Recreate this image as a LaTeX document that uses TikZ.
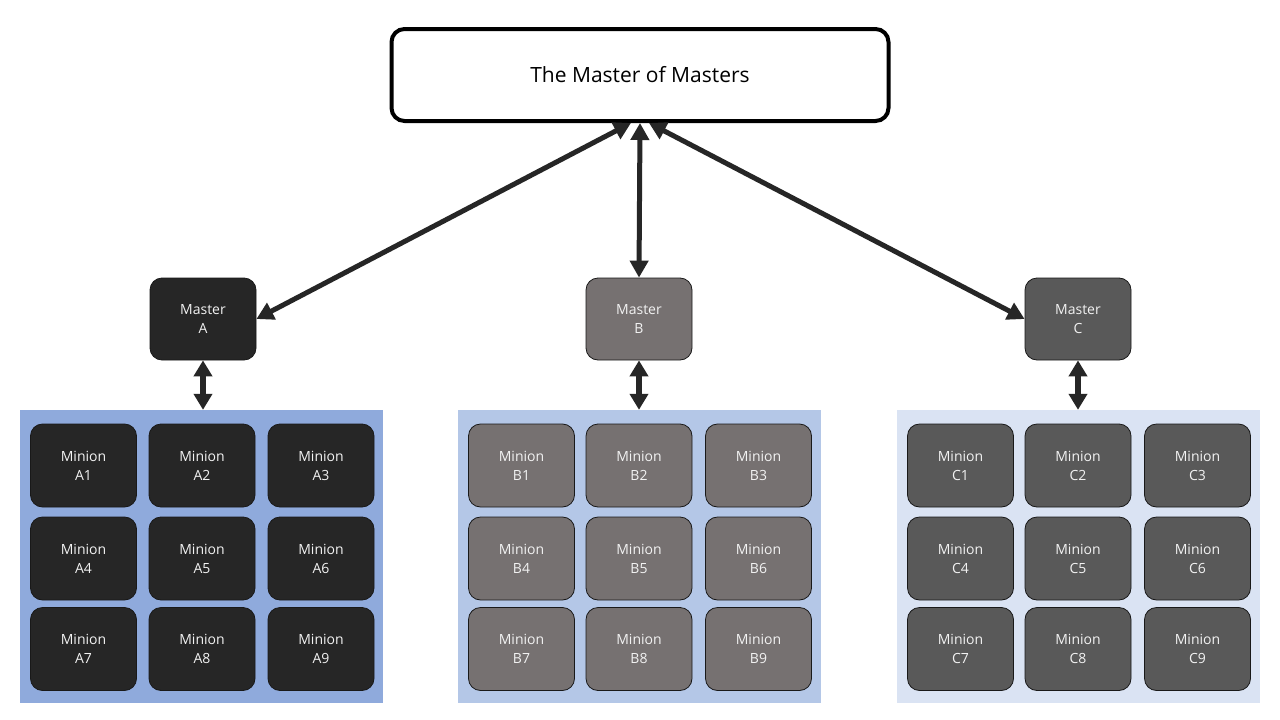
\documentclass[tikz,border=0pt]{standalone}
\usepackage{fontspec}
\setmainfont{Open Sans}
\usetikzlibrary{arrows.meta,calc}
\definecolor{cA}{HTML}{262626}
\definecolor{cB}{HTML}{767171}
\definecolor{cC}{HTML}{595959}
\definecolor{pA}{HTML}{8FAADC}
\definecolor{pB}{HTML}{B4C7E7}
\definecolor{pC}{HTML}{DAE3F3}
\definecolor{txt}{HTML}{F2F2F2}
\definecolor{edge}{HTML}{262626}
\tikzset{
  boxstyle/.style={rounded corners=12pt, draw=black!90, line width=0.8pt, minimum width=106pt, minimum height=83pt, inner sep=0pt, text=txt, align=center, font=\fontsize{14}{19}\selectfont},
  panel/.style={draw=none, inner sep=0pt, minimum width=363pt, minimum height=293pt},
  bigarrow/.style={edge, line width=5pt, {Triangle[width=18pt,length=17pt]}-{Triangle[width=18pt,length=17pt]}, shorten <=0pt, shorten >=0pt},
  vertarrow/.style={edge, line width=6pt, {Triangle[width=18pt,length=16pt]}-{Triangle[width=18pt,length=16pt]}}
}
\begin{document}
\begin{tikzpicture}[x=1pt,y=-1pt]
\useasboundingbox[fill=white] (0,0) rectangle (1280,720);
% top
\node[draw=black, line width=4pt, rounded corners=13pt, minimum width=497pt, minimum height=92pt, inner sep=0pt, font=\fontsize{21}{25}\selectfont] (top) at (640,75) {The Master of Masters};
% panels
\node[panel, fill=pA] (PA) at (201.5,556.5) {};
\node[panel, fill=pB] (PB) at (639.5,556.5) {};
\node[panel, fill=pC] (PC) at (1078.5,556.5) {};
% masters
\node[boxstyle, fill=cA, minimum height=82pt] (MA) at (203,319) {Master\\A};
\node[boxstyle, fill=cB, minimum height=82pt] (MB) at (639,319) {Master\\B};
\node[boxstyle, fill=cC, minimum height=82pt] (MC) at (1078,319) {Master\\C};
% minions
\foreach \g/\col/\xa/\xb/\xc in {A/cA/83.5/202/321, B/cB/521.5/639/758.5, C/cC/960.5/1078/1197.5}{
  \foreach \r/\y in {0/465.5, 1/558.5, 2/649}{
    \pgfmathtruncatemacro{\na}{3*\r+1}
    \pgfmathtruncatemacro{\nb}{3*\r+2}
    \pgfmathtruncatemacro{\nc}{3*\r+3}
    \node[boxstyle, fill=\col] (m\g\na) at (\xa,\y) {Minion\\\g\na};
    \node[boxstyle, fill=\col] (m\g\nb) at (\xb,\y) {Minion\\\g\nb};
    \node[boxstyle, fill=\col] (m\g\nc) at (\xc,\y) {Minion\\\g\nc};
  }
}
% connectors
\coordinate (tA) at ([xshift=-9pt]top.south);
\coordinate (tB) at (top.south);
\coordinate (tC) at ([xshift=9pt]top.south);
\draw[bigarrow] (tA) -- (MA.east);
\draw[bigarrow] (tB) -- (MB.north);
\draw[bigarrow] (tC) -- (MC.west);
\draw[vertarrow] (MA.south) -- (MA.south |- PA.north);
\draw[vertarrow] (MB.south) -- (MB.south |- PB.north);
\draw[vertarrow] (MC.south) -- (MC.south |- PC.north);
\end{tikzpicture}
\end{document}
